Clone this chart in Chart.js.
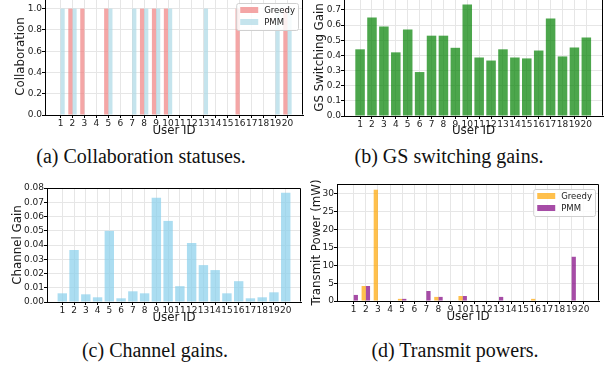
<!DOCTYPE html>
<html>
<head>
<meta charset="utf-8">
<script src="https://cdn.jsdelivr.net/npm/chart.js@4.4.1/dist/chart.umd.min.js"></script>
<style>
  body { margin: 0; width: 610px; height: 368px; background: #fff; overflow: hidden; position: relative; }
  .panel { position: absolute; }
  .cap { position: absolute; height: 24px; line-height: 24px; width: 300px; text-align: center;
         font-family: "Liberation Serif", "Times New Roman", serif; font-size: 20px; color: #111; }
</style>
</head>
<body>
<div class="panel" style="left:0px;top:-10px;width:305px;height:149px"><canvas id="chartA"></canvas></div>
<div class="panel" style="left:305px;top:-9px;width:300px;height:148px"><canvas id="chartB"></canvas></div>
<div class="panel" style="left:0px;top:180px;width:303px;height:146px"><canvas id="chartC"></canvas></div>
<div class="panel" style="left:305px;top:176px;width:296px;height:149px"><canvas id="chartD"></canvas></div>
<div class="cap" style="left:-9px;top:144px">(a) Collaboration statuses.</div>
<div class="cap" style="left:299px;top:144px">(b) GS switching gains.</div>
<div class="cap" style="left:5px;top:338px">(c) Channel gains.</div>
<div class="cap" style="left:305px;top:338px">(d) Transmit powers.</div>
<script>
// Data
const userIds = [1, 2, 3, 4, 5, 6, 7, 8, 9, 10, 11, 12, 13, 14, 15, 16, 17, 18, 19, 20];

const collabGreedy = [0, 1, 1, 0, 1, 0, 0, 1, 1, 1, 0, 0, 0, 0, 0, 1, 0, 0, 0, 1];
const collabPmm    = [1, 1, 0, 0, 1, 0, 1, 1, 1, 1, 0, 0, 1, 0, 0, 0, 0, 0, 1, 1];

const gsGain = [0.44, 0.65, 0.59, 0.42, 0.57, 0.29, 0.53, 0.53, 0.45, 0.735,
                0.386, 0.366, 0.44, 0.386, 0.38, 0.432, 0.643, 0.393, 0.452, 0.518];

const channelGain = [0.0061, 0.0365, 0.0054, 0.0033, 0.0499, 0.0026, 0.0075, 0.0061, 0.0732, 0.0569,
                     0.0111, 0.0414, 0.0259, 0.0224, 0.0061, 0.0146, 0.0026, 0.0033, 0.0068, 0.0767];

const powerGreedy = [0, 4.2, 31.2, 0, 0.6, 0, 0, 1.15, 0, 1.4, 0, 0, 0, 0, 0, 0.6, 0, 0, 0, 0];
const powerPmm    = [1.7, 4.2, 0, 0, 0.6, 0, 2.8, 1.15, 0, 1.4, 0, 0, 1.15, 0, 0, 0, 0, 0, 12.4, 0];

const collabTicks = [0, 0.2, 0.4, 0.6, 0.8, 1.0];
const gsTicks = [0, 0.1, 0.2, 0.3, 0.4, 0.5, 0.6, 0.7];
const channelTicks = [0, 0.01, 0.02, 0.03, 0.04, 0.05, 0.06, 0.07, 0.08];
const powerTicks = [0, 5, 10, 15, 20, 25, 30];

// Plugins: full box frame and a matplotlib-like legend inside the axes
const frame = {
    id: 'frame',
    afterDraw(chart) {
        const { ctx, chartArea: a } = chart;
        ctx.save();
        ctx.strokeStyle = '#000';
        ctx.lineWidth = 1;
        ctx.beginPath();
        ctx.moveTo(Math.round(a.left) + 0.5, Math.round(a.top) + 0.5);
        ctx.lineTo(Math.round(a.right) - 0.5, Math.round(a.top) + 0.5);
        ctx.lineTo(Math.round(a.right) - 0.5, Math.round(a.bottom) - 0.5);
        ctx.stroke();
        ctx.restore();
    }
};

const boxLegend = {
    id: 'boxLegend',
    afterDraw(chart, args, opts) {
        if (!opts.show) return;
        const { ctx, chartArea: a } = chart;
        const sets = chart.data.datasets;
        ctx.save();
        ctx.font = '8.5px "DejaVu Sans", sans-serif';
        const textW = Math.max(...sets.map(d => ctx.measureText(d.label).width));
        const w = 4 + 18 + 6 + textW + 3;
        const h = 7 + 12 * (sets.length - 1) + 8;
        const x0 = a.right - opts.right - w;
        const y0 = a.top + opts.top;
        ctx.beginPath();
        ctx.roundRect(x0 + 0.5, y0 + 0.5, w, h, 2);
        ctx.fillStyle = 'rgba(255,255,255,0.85)';
        ctx.fill();
        ctx.strokeStyle = '#d0d0d0';
        ctx.lineWidth = 1;
        ctx.stroke();
        sets.forEach((d, i) => {
            const cy = y0 + 7 + 12 * i;
            ctx.fillStyle = d.backgroundColor;
            ctx.fillRect(x0 + 4, cy - 3, 18, 6);
            ctx.fillStyle = '#1a1a1a';
            ctx.textBaseline = 'middle';
            ctx.fillText(d.label, x0 + 28, cy + 0.5);
        });
        ctx.restore();
    }
};

const tickFont = { family: "'DejaVu Sans', sans-serif", size: 9 };
const titleFont = { family: "'DejaVu Sans', sans-serif", size: 11.8 };

function makePanel(id, datasets, p) {
    return new Chart(document.getElementById(id), {
        type: 'bar',
        data: { labels: userIds, datasets: datasets },
        plugins: [frame, boxLegend],
        options: {
            responsive: true,
            maintainAspectRatio: false,
            animation: false,
            layout: { padding: { top: 8, right: 2, bottom: 0, left: 0 } },
            datasets: { bar: { categoryPercentage: p.catPct, barPercentage: 1, borderWidth: 0 } },
            plugins: {
                legend: { display: false },
                tooltip: { enabled: false },
                boxLegend: { show: p.legend, right: p.legRight, top: 5 }
            },
            scales: {
                x: {
                    type: 'linear',
                    offset: false,
                    min: p.xMin,
                    max: p.xMax,
                    afterBuildTicks: s => { s.ticks = userIds.map(v => ({ value: v })); },
                    afterFit: s => { s.height = p.xH; },
                    ticks: { autoSkip: false, maxRotation: 0, minRotation: 0, padding: 0,
                             color: '#1a1a1a', font: tickFont, callback: v => String(v) },
                    grid: { offset: false, color: '#e6e6e6', tickColor: '#000', tickLength: 3 },
                    border: { color: '#000', width: 1 },
                    title: { display: true, text: 'User ID', color: '#1a1a1a', font: titleFont,
                             padding: { top: 0, bottom: 0.5 } }
                },
                y: {
                    min: 0,
                    max: p.yMax,
                    afterBuildTicks: s => { s.ticks = p.yTicks.map(v => ({ value: v })); },
                    afterFit: s => { s.width = p.yW; },
                    ticks: { padding: 0, color: '#1a1a1a', font: tickFont, callback: v => v.toFixed(p.dec) },
                    grid: { color: '#e6e6e6', tickColor: '#000', tickLength: 3 },
                    border: { color: '#000', width: 1 },
                    title: { display: true, text: p.yTitle, color: '#1a1a1a', font: titleFont,
                             padding: { top: p.yTitlePad, bottom: 0 } }
                }
            }
        }
    });
}

makePanel('chartA', [
    { label: 'Greedy', data: collabGreedy, backgroundColor: 'rgba(240,128,128,0.7)' },
    { label: 'PMM', data: collabPmm, backgroundColor: 'rgba(173,216,230,0.7)' }
], { catPct: 0.7, xMin: -0.3, xMax: 21.3, xH: 24, yMax: 1.1, yTicks: collabTicks, dec: 1,
     yW: 45, yTitle: 'Collaboration', yTitlePad: 13.5, legend: true, legRight: 5 });

makePanel('chartB', [
    { label: 'GS Switching Gain', data: gsGain, backgroundColor: 'rgba(0,128,0,0.7)' }
], { catPct: 0.8, xMin: -0.35, xMax: 21.4, xH: 23, yMax: 0.772, yTicks: gsTicks, dec: 1,
     yW: 39, yTitle: 'GS Switching Gain', yTitlePad: 8, legend: false });

makePanel('chartC', [
    { label: 'Channel Gain', data: channelGain, backgroundColor: 'rgba(135,206,235,0.7)' }
], { catPct: 0.8, xMin: -0.3, xMax: 21.3, xH: 24, yMax: 0.08, yTicks: channelTicks, dec: 2,
     yW: 47, yTitle: 'Channel Gain', yTitlePad: 11, legend: false });

makePanel('chartD', [
    { label: 'Greedy', data: powerGreedy, backgroundColor: 'rgba(255,165,0,0.7)' },
    { label: 'PMM', data: powerPmm, backgroundColor: 'rgba(128,0,128,0.7)' }
], { catPct: 0.7, xMin: -0.38, xMax: 21.26, xH: 24, yMax: 32.8, yTicks: powerTicks, dec: 0,
     yW: 32, yTitle: 'Transmit Power (mW)', yTitlePad: 5, legend: true, legRight: 4 });
</script>
</body>
</html>
